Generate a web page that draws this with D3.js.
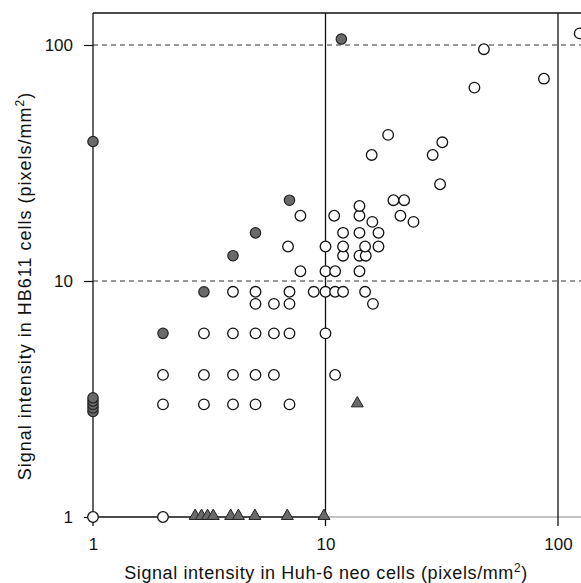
<!DOCTYPE html>
<html>
<head>
<meta charset="utf-8">
<script src="https://cdn.jsdelivr.net/npm/d3@7"></script>
<style>
  body { margin: 0; background: #fff; }
  text { font-family: "Liberation Sans", Arial, sans-serif; fill: #111; }
</style>
</head>
<body>
<script>
// tick values, both axes are log scale
var xTicks = [1, 10, 100];
var yTicks = [1, 10, 100];

// open circles
var openPts = [
  [1, 1], [2, 1],
  [2, 3], [3, 3], [4, 3], [5, 3], [7, 3],
  [2, 4], [3, 4], [4, 4], [5, 4], [6, 4], [11, 4],
  [3, 6], [4, 6], [5, 6], [6, 6], [7, 6], [10, 6],
  [5, 8], [6, 8], [7, 8], [16, 8],
  [4, 9], [5, 9], [7, 9], [8.9, 9], [10, 9], [11, 9], [11.9, 9], [14.8, 9],
  [7.8, 11], [10, 11], [11, 11], [14, 11],
  [11.9, 12.8], [14, 12.8], [14.9, 12.8],
  [6.9, 14], [10, 14], [11.9, 14], [14.8, 14], [16.9, 14],
  [11.9, 16], [14, 16], [16.9, 16],
  [15.9, 17.8], [23.9, 17.8],
  [7.8, 18.9], [10.9, 18.9], [14, 18.9], [21, 18.9],
  [14, 20.8], [19.6, 22], [21.8, 22],
  [31.1, 25.7], [15.8, 34.2], [28.9, 34.2], [31.8, 38.7], [18.6, 41.6],
  [43.7, 66], [87, 72], [48, 96], [124, 112]
];

// filled grey circles
var filledPts = [
  [1, 39], [1, 2.8], [1, 2.9], [1, 3.0], [1, 3.1], [1, 3.2],
  [2, 6], [3, 9], [4, 12.8], [5, 16], [7, 22], [11.7, 106]
];

// grey triangles
var triPts = [
  [2.75, 1], [2.93, 1], [3.11, 1], [3.29, 1], [3.91, 1], [4.22, 1],
  [4.97, 1], [6.85, 1], [9.85, 1], [13.7, 3]
];

var svgWidth = 581;
var svgHeight = 583;
var plotTop = 13;

var svg = d3.select("body")
  .append("svg")
  .attr("width", svgWidth)
  .attr("height", svgHeight);

var x = d3.scaleLog().domain([1, 100]).range([93, 558]);
var y = d3.scaleLog().domain([1, 100]).range([517, 45]);

// frame: top line and bottom line
svg.append("line")
  .attr("x1", x(1)).attr("x2", svgWidth)
  .attr("y1", plotTop).attr("y2", plotTop)
  .attr("stroke", "#111").attr("stroke-width", 1.3);

svg.append("line")
  .attr("x1", x(1)).attr("x2", x(10))
  .attr("y1", y(1)).attr("y2", y(1))
  .attr("stroke", "#111").attr("stroke-width", 1.3);
svg.append("line")
  .attr("x1", x(10)).attr("x2", svgWidth)
  .attr("y1", y(1)).attr("y2", y(1))
  .attr("stroke", "#888").attr("stroke-width", 1.1);

// dashed horizontal lines at 10 and 100
svg.selectAll(".hdash")
  .data(yTicks.slice(1))
  .enter()
  .append("line")
  .attr("class", "hdash")
  .attr("x1", x(1)).attr("x2", svgWidth)
  .attr("y1", d => y(d)).attr("y2", d => y(d))
  .attr("stroke", "#333").attr("stroke-width", 1.1)
  .attr("stroke-dasharray", "5,4");

// vertical solid lines at 1, 10, 100 (with small ticks below)
svg.selectAll(".vline")
  .data(xTicks)
  .enter()
  .append("line")
  .attr("class", "vline")
  .attr("x1", d => x(d)).attr("x2", d => x(d))
  .attr("y1", plotTop).attr("y2", y(1) + 9)
  .attr("stroke", "#111").attr("stroke-width", 1.3);

// left axis
var leftAxis = d3.axisLeft(y).tickValues(yTicks).tickSize(9).tickPadding(11)
  .tickFormat(d3.format("d"));
var gy = svg.append("g")
  .attr("transform", `translate(${x(1)}, 0)`)
  .call(leftAxis);
gy.select(".domain").remove();
gy.selectAll("line").attr("stroke", "#111").attr("stroke-width", 1.2);
gy.selectAll("text").style("font-size", "17px").attr("fill", "#111");

// bottom axis (labels only)
var bottomAxis = d3.axisBottom(x).tickValues(xTicks).tickSize(0).tickPadding(21)
  .tickFormat(d3.format("d"));
var gx = svg.append("g")
  .attr("transform", `translate(0, ${y(1)})`)
  .call(bottomAxis);
gx.select(".domain").remove();
gx.selectAll("text").style("font-size", "17px").attr("fill", "#111");

// open circles
svg.selectAll(".open")
  .data(openPts)
  .enter()
  .append("circle")
  .attr("class", "open")
  .attr("cx", d => x(d[0]))
  .attr("cy", d => y(d[1]))
  .attr("r", 5.3)
  .attr("fill", "#fff")
  .attr("stroke", "#111")
  .attr("stroke-width", 1.3);

// filled circles
svg.selectAll(".filled")
  .data(filledPts)
  .enter()
  .append("circle")
  .attr("class", "filled")
  .attr("cx", d => x(d[0]))
  .attr("cy", d => y(d[1]))
  .attr("r", 5.2)
  .attr("fill", "#6a6a6a")
  .attr("stroke", "#222")
  .attr("stroke-width", 1.2);

// triangles
var tri = d3.symbol().type(d3.symbolTriangle).size(62);
svg.selectAll(".tri")
  .data(triPts)
  .enter()
  .append("path")
  .attr("class", "tri")
  .attr("d", tri)
  .attr("transform", d => `translate(${x(d[0])}, ${y(d[1]) - 1})`)
  .attr("fill", "#6a6a6a")
  .attr("stroke", "#222")
  .attr("stroke-width", 1);

// axis titles
var xTitle = svg.append("text")
  .attr("x", 326)
  .attr("y", 579)
  .attr("text-anchor", "middle")
  .style("font-size", "18px")
  .style("letter-spacing", "0.6px");
xTitle.append("tspan").text("Signal intensity in Huh-6 neo cells (pixels/mm");
xTitle.append("tspan").attr("dy", -7).style("font-size", "12px").text("2");
xTitle.append("tspan").attr("dy", 7).text(")");

var yTitle = svg.append("text")
  .attr("transform", "translate(31, 286) rotate(-90)")
  .attr("text-anchor", "middle")
  .style("font-size", "18px")
  .style("letter-spacing", "1px");
yTitle.append("tspan").text("Signal intensity in HB611 cells (pixels/mm");
yTitle.append("tspan").attr("dy", -7).style("font-size", "12px").text("2");
yTitle.append("tspan").attr("dy", 7).text(")");
</script>
</body>
</html>
